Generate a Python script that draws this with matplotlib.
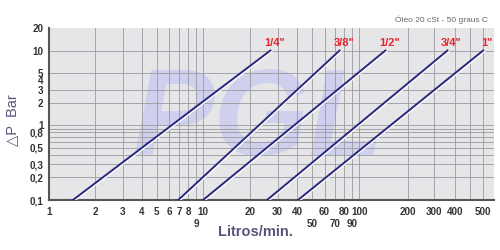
import numpy as np
import matplotlib
matplotlib.use("Agg")
import matplotlib.pyplot as plt
import matplotlib.patheffects as pe
from matplotlib.ticker import FixedLocator, NullLocator

plt.rcParams['font.family'] = ['Liberation Sans', 'DejaVu Sans']

# pipe sizes and the two end points of each curve (flow L/min, pressure drop bar)
sizes = ['1/4"', '3/8"', '1/2"', '3/4"', '1"']
flow_start = [1.43, 6.9, 10.0, 25.7, 40.6]
flow_end = [27.0, 75.0, 145.0, 360.0, 500.0]
dp_start = [0.1, 0.1, 0.1, 0.1, 0.1]
dp_end = [10, 10, 10, 10, 10]

x_ticks = [1, 2, 3, 4, 5, 6, 7, 8, 9, 10, 20, 30, 40, 50, 60, 70, 80, 90, 100,
           200, 300, 400, 500]
x_labels = ['1', '2', '3', '4', '5', '6', '7', '8', '\n9', '10', '20', '30', '40',
            '\n50', '60', '\n70', '80', '\n90', '100', '200', '300', '400', '500']
x_grid = x_ticks[1:] + [450]
y_ticks = [0.1, 0.2, 0.3, 0.5, 0.8, 1, 2, 3, 4, 5, 10, 20]
y_labels = ['0,1', '0,2', '0,3', '0,5', '0,8', '1', '2', '3', '4', '5', '10', '20']
y_grid = [0.2, 0.3, 0.4, 0.5, 0.6, 0.7, 0.8, 0.9, 1, 2, 3, 5, 10]

# the printed chart's flow axis is logarithmic per decade but stretched
# in the last decade; calibrate it as a piecewise log scale
scale_vals = np.log10([1, 10, 100, 200, 300, 400, 500, 1000])
scale_pos = np.array([0, 154, 310, 359, 385, 406, 434, 521], dtype=float)


def fwd(x):
    x = np.clip(np.asarray(x, dtype=float), 1e-3, None)
    return np.interp(np.log10(x), scale_vals, scale_pos)


def inv(p):
    return 10 ** np.interp(np.asarray(p, dtype=float), scale_pos, scale_vals)


fig = plt.figure(figsize=(5, 2.5), dpi=100)
ax = fig.add_axes([0.098, 0.2, 0.89, 0.688])
ax.set_facecolor('#e6e6e9')

ax.set_xscale('function', functions=(fwd, inv))
ax.set_yscale('log')
ax.set_xlim(1, 545)
ax.set_ylim(0.1, 20)

# grid
for v in x_grid:
    ax.axvline(v, color='#9a9a9e', lw=0.6, zorder=1)
for v in y_grid:
    ax.axhline(v, color='#9a9a9e', lw=0.6, zorder=1)

# watermark
ax.text(0.47, 0.45, 'PGL', transform=ax.transAxes, fontsize=88,
        fontweight='bold', fontstyle='italic', color='#cbcbf0', alpha=0.85,
        ha='center', va='center', zorder=0.5)

for s, x0, x1, y0, y1 in zip(sizes, flow_start, flow_end, dp_start, dp_end):
    ax.plot([x0, x1], [y0, y1], color='#28287e', lw=1.4, zorder=3,
            path_effects=[pe.SimpleLineShadow(offset=(0.7, -0.7),
                                              shadow_color='white', alpha=1),
                          pe.Normal()])
    ax.annotate(s, (x1, y1), xytext=(3, 5.5), textcoords='offset points',
                ha='center', va='center', color='#e8242c', fontsize=8,
                fontweight='bold')

ax.xaxis.set_major_locator(FixedLocator(x_ticks))
ax.xaxis.set_minor_locator(NullLocator())
ax.set_xticklabels(x_labels)
ax.yaxis.set_major_locator(FixedLocator(y_ticks))
ax.yaxis.set_minor_locator(NullLocator())
ax.set_yticklabels(y_labels)
ax.tick_params(length=0, labelsize=7.1, labelcolor='#333333', pad=4)
for lab in ax.get_xticklabels() + ax.get_yticklabels():
    lab.set_fontweight('bold')
ax.tick_params(axis='x', pad=5)

for side in ['top', 'right']:
    ax.spines[side].set_visible(False)
for side in ['left', 'bottom']:
    ax.spines[side].set_color('#555555')
    ax.spines[side].set_linewidth(1.5)

fig.text(0.51, 0.07, 'Litros/min.', ha='center', va='center', fontsize=10.5,
         fontweight='bold', color='#55577a')
fig.text(0.024, 0.52, '\u25b3P  Bar', ha='center', va='center', rotation=90,
         fontsize=10.5, color='#55577a')
fig.text(0.976, 0.92, 'Óleo 20 cSt - 50 graus C', ha='right', va='center',
         fontsize=6, color='#666666')

fig.savefig('out.png', dpi=100)
